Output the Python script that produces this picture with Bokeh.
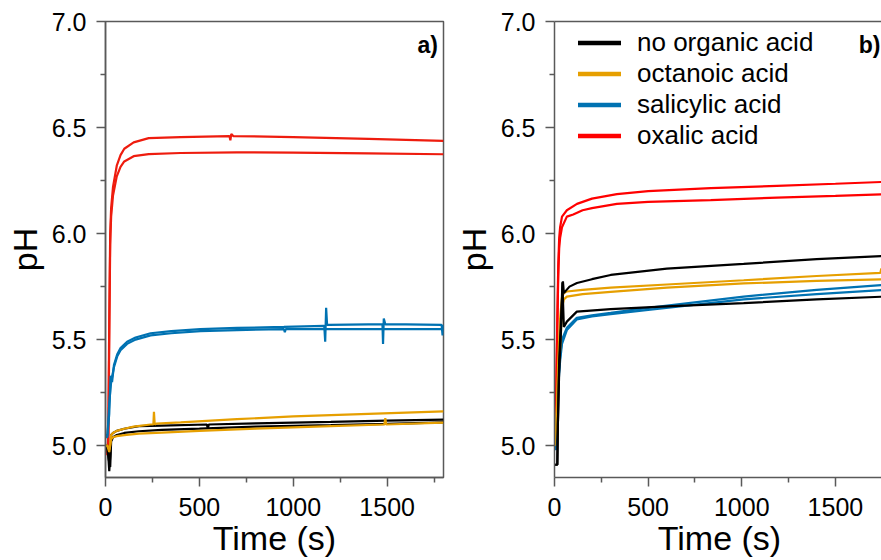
from bokeh.plotting import figure
from bokeh.layouts import row
from bokeh.models import (Range1d, FixedTicker, PrintfTickFormatter, Legend, LegendItem,
                          Label, LinearAxis)
from bokeh.embed import file_html
from bokeh.resources import INLINE

# ---------------- data: panel a) ----------------
a_oxalic1_t = [0, 10, 15, 20, 25, 30, 40, 60, 80, 100, 150, 230, 400, 660, 665, 670, 680, 1000, 1400, 1800]
a_oxalic1_ph = [4.97, 4.97, 5.05, 5.6, 6.0, 6.12, 6.22, 6.32, 6.37, 6.40, 6.43, 6.45, 6.455, 6.46, 6.44, 6.47, 6.46, 6.455, 6.447, 6.437]
a_oxalic2_t = [0, 10, 15, 20, 25, 30, 40, 60, 80, 100, 150, 230, 400, 700, 1000, 1400, 1800]
a_oxalic2_ph = [4.96, 4.96, 5.0, 5.5, 5.95, 6.08, 6.18, 6.27, 6.315, 6.34, 6.365, 6.375, 6.38, 6.383, 6.382, 6.378, 6.374]

a_salicylic1_t = [0, 10, 20, 27, 35, 45, 62, 80, 115, 160, 240, 350, 505, 700, 950, 1165, 1170, 1175, 1180, 1190, 1400, 1475, 1478, 1482, 1490, 1600, 1790, 1795, 1800]
a_salicylic1_ph = [5.05, 5.05, 5.15, 5.33, 5.30, 5.38, 5.43, 5.46, 5.49, 5.51, 5.53, 5.54, 5.55, 5.555, 5.56, 5.565, 5.49, 5.65, 5.57, 5.57, 5.572, 5.572, 5.48, 5.60, 5.572, 5.572, 5.57, 5.52, 5.57]
a_salicylic2_t = [0, 10, 20, 30, 45, 62, 80, 115, 160, 240, 350, 505, 700, 950, 955, 960, 1000, 1400, 1800]
a_salicylic2_ph = [5.04, 5.04, 5.20, 5.30, 5.37, 5.42, 5.45, 5.48, 5.50, 5.52, 5.53, 5.54, 5.545, 5.55, 5.535, 5.55, 5.55, 5.55, 5.55]

a_octanoic1_t = [0, 10, 20, 25, 30, 40, 60, 100, 150, 240, 255, 258, 262, 270, 400, 700, 1000, 1400, 1800]
a_octanoic1_ph = [5.0, 5.0, 4.97, 5.0, 5.05, 5.06, 5.07, 5.08, 5.09, 5.10, 5.10, 5.16, 5.10, 5.104, 5.11, 5.125, 5.138, 5.15, 5.162]
a_octanoic2_t = [0, 10, 20, 30, 40, 60, 100, 178, 300, 500, 800, 1200, 1485, 1490, 1495, 1800]
a_octanoic2_ph = [5.0, 5.0, 4.98, 5.03, 5.04, 5.045, 5.05, 5.057, 5.062, 5.07, 5.08, 5.092, 5.10, 5.13, 5.10, 5.109]

a_none1_t = [0, 10, 15, 20, 25, 30, 40, 60, 100, 178, 300, 540, 545, 550, 800, 1200, 1500, 1800]
a_none1_ph = [5.0, 5.0, 4.95, 4.88, 4.95, 5.05, 5.06, 5.07, 5.08, 5.092, 5.095, 5.10, 5.08, 5.10, 5.105, 5.112, 5.118, 5.123]
a_none2_t = [0, 10, 20, 25, 30, 40, 60, 100, 178, 300, 500, 800, 1200, 1500, 1800]
a_none2_ph = [5.0, 4.98, 4.92, 4.90, 5.02, 5.04, 5.05, 5.06, 5.068, 5.075, 5.08, 5.09, 5.097, 5.103, 5.11]

# ---------------- data: panel b) ----------------
b_oxalic1_t = [0, 5, 10, 15, 20, 25, 30, 40, 66, 120, 200, 333, 500, 834, 1188, 1500, 1763]
b_oxalic1_ph = [5.0, 5.12, 5.3, 5.6, 5.85, 5.98, 6.03, 6.08, 6.11, 6.14, 6.165, 6.186, 6.20, 6.214, 6.225, 6.235, 6.244]
b_oxalic2_t = [0, 5, 10, 15, 20, 25, 30, 40, 66, 100, 150, 200, 333, 500, 834, 1188, 1500, 1763]
b_oxalic2_ph = [5.0, 5.1, 5.3, 5.55, 5.8, 5.93, 5.98, 6.03, 6.08, 6.09, 6.11, 6.12, 6.14, 6.15, 6.158, 6.17, 6.178, 6.185]

b_salicylic1_t = [0, 5, 10, 15, 20, 30, 40, 66, 119, 200, 300, 500, 1010, 1400, 1763]
b_salicylic1_ph = [5.0, 4.98, 5.1, 5.2, 5.3, 5.42, 5.5, 5.556, 5.603, 5.615, 5.626, 5.65, 5.703, 5.735, 5.758]
b_salicylic2_t = [0, 5, 10, 15, 20, 30, 40, 66, 119, 200, 300, 500, 1010, 1400, 1763]
b_salicylic2_ph = [5.0, 4.98, 5.08, 5.18, 5.28, 5.40, 5.48, 5.545, 5.595, 5.61, 5.62, 5.64, 5.69, 5.715, 5.735]

b_octanoic1_t = [0, 10, 20, 30, 40, 50, 66, 150, 300, 600, 1010, 1400, 1740, 1745, 1750, 1763]
b_octanoic1_ph = [5.0, 5.1, 5.4, 5.6, 5.7, 5.72, 5.727, 5.735, 5.745, 5.76, 5.78, 5.80, 5.815, 5.835, 5.815, 5.818]
b_octanoic2_t = [0, 10, 20, 30, 40, 50, 66, 150, 300, 600, 1010, 1400, 1763]
b_octanoic2_ph = [5.0, 5.1, 5.35, 5.45, 5.65, 5.69, 5.703, 5.715, 5.725, 5.745, 5.765, 5.777, 5.785]

b_none1_t = [0, 15, 18, 25, 35, 45, 50, 60, 80, 120, 200, 300, 600, 1010, 1400, 1763]
b_none1_ph = [4.91, 4.91, 5.1, 5.4, 5.6, 5.775, 5.72, 5.73, 5.75, 5.767, 5.785, 5.805, 5.835, 5.857, 5.88, 5.895]
b_none2_t = [0, 15, 18, 25, 35, 42, 50, 66, 119, 300, 600, 1010, 1400, 1763]
b_none2_ph = [4.91, 4.91, 5.1, 5.35, 5.55, 5.77, 5.56, 5.585, 5.632, 5.644, 5.657, 5.672, 5.69, 5.703]

legend_labels = ["no organic acid", "octanoic acid", "salicylic acid", "oxalic acid"]
y_ticks = [5.0, 5.5, 6.0, 6.5, 7.0]
y_minor = [5.25, 5.75, 6.25, 6.75]
x_ticks = [0, 500, 1000, 1500]
x_minor = [250, 750, 1250, 1750]

C_BLACK = "#000000"
C_ORANGE = "#E69F00"
C_BLUE = "#0072B2"
C_RED_A = "#EE1C0E"
C_RED_B = "#FF0000"
AX = "#595959"
FONT = "Liberation Sans"


def style_axes(p):
    for ax in p.yaxis:
        ax.ticker = FixedTicker(ticks=y_ticks, minor_ticks=y_minor)
        ax.formatter = PrintfTickFormatter(format="%.1f")
        ax.major_label_standoff = 10
        ax.axis_label_standoff = 5
    for ax in p.xaxis:
        ax.ticker = FixedTicker(ticks=x_ticks, minor_ticks=x_minor)
        ax.formatter = PrintfTickFormatter(format="%d")
        ax.major_label_standoff = 11
        ax.axis_label_standoff = 0
    for ax in p.xaxis + p.yaxis:
        ax.axis_line_color = AX
        ax.axis_line_width = 1.5
        ax.major_tick_line_color = AX
        ax.minor_tick_line_color = AX
        ax.major_tick_line_width = 1.5
        ax.minor_tick_line_width = 1.5
        ax.major_tick_out = 9
        ax.major_tick_in = 0
        ax.minor_tick_out = 5
        ax.minor_tick_in = 0
        ax.major_label_text_font = FONT
        ax.major_label_text_font_size = "25px"
        ax.major_label_text_color = "#000000"
        ax.axis_label_text_font = FONT
        ax.axis_label_text_font_size = "34px"
        ax.axis_label_text_font_style = "normal"
        ax.axis_label_text_color = "#000000"
    p.xaxis.axis_label = "Time (s)"
    p.yaxis.axis_label = "pH"
    p.xgrid.visible = False
    p.ygrid.visible = False


def make_fig(x_end, frame_w, border_l, border_r, outline):
    p = figure(frame_width=frame_w, frame_height=456, output_backend="svg",
               toolbar_location=None, x_range=Range1d(0, x_end), y_range=Range1d(4.85, 7.0),
               min_border_left=border_l, min_border_right=border_r, min_border_top=21,
               min_border_bottom=10, background_fill_color="white", border_fill_color="white")
    if outline:
        p.outline_line_color = AX
        p.outline_line_width = 1.5
    else:
        p.outline_line_color = None
    style_axes(p)
    return p


pa = make_fig(1800, 338, 105, 8, True)
series_a = [
    (a_oxalic1_t, a_oxalic1_ph, C_RED_A), (a_oxalic2_t, a_oxalic2_ph, C_RED_A),
    (a_salicylic1_t, a_salicylic1_ph, C_BLUE), (a_salicylic2_t, a_salicylic2_ph, C_BLUE),
    (a_none1_t, a_none1_ph, C_BLACK), (a_none2_t, a_none2_ph, C_BLACK),
    (a_octanoic1_t, a_octanoic1_ph, C_ORANGE), (a_octanoic2_t, a_octanoic2_ph, C_ORANGE),
]
for t, ph, c in series_a:
    pa.line(t, ph, line_color=c, line_width=2.2)
pa.add_layout(Label(x=1770, y=6.89, text="a)", text_align="right", text_baseline="middle",
                    text_font=FONT, text_font_size="23px", text_font_style="bold",
                    text_color="#000000"))

pb = make_fig(1762, 330, 100, 0, False)
top_ax = LinearAxis(ticker=FixedTicker(ticks=[]), axis_line_color=AX, axis_line_width=1.5,
                    major_label_text_font_size="0px", major_tick_out=0, minor_tick_out=0)
pb.add_layout(top_ax, "above")
series_b = [
    (b_oxalic1_t, b_oxalic1_ph, C_RED_B), (b_oxalic2_t, b_oxalic2_ph, C_RED_B),
    (b_salicylic1_t, b_salicylic1_ph, C_BLUE), (b_salicylic2_t, b_salicylic2_ph, C_BLUE),
    (b_octanoic1_t, b_octanoic1_ph, C_ORANGE), (b_octanoic2_t, b_octanoic2_ph, C_ORANGE),
    (b_none1_t, b_none1_ph, C_BLACK), (b_none2_t, b_none2_ph, C_BLACK),
]
for t, ph, c in series_b:
    pb.line(t, ph, line_color=c, line_width=2.2)

# legend swatches: hidden thick copies of one replicate per acid
legend_src = [(b_none1_t, b_none1_ph, C_BLACK), (b_octanoic1_t, b_octanoic1_ph, C_ORANGE),
              (b_salicylic1_t, b_salicylic1_ph, C_BLUE), (b_oxalic1_t, b_oxalic1_ph, C_RED_B)]
items = []
for lab, (t, ph, c) in zip(legend_labels, legend_src):
    r = pb.line(t, ph, line_color=c, line_width=4.5, line_cap="round", visible=False)
    items.append(LegendItem(label=lab, renderers=[r]))
leg = Legend(items=items, location=(24, 326), padding=0, margin=0, spacing=0,
             glyph_width=43, glyph_height=31, label_height=31, label_standoff=16,
             label_text_font=FONT, label_text_font_size="26px", label_text_color="#000000",
             border_line_color=None, background_fill_alpha=0, inactive_fill_alpha=0)
pb.add_layout(leg, "center")
pb.add_layout(Label(x=1740, y=6.89, text="b)", text_align="right", text_baseline="middle",
                    text_font=FONT, text_font_size="23px", text_font_style="bold",
                    text_color="#000000"))

layout = row(pa, pb, spacing=0)
open("out.html", "w").write(file_html(layout, INLINE))
